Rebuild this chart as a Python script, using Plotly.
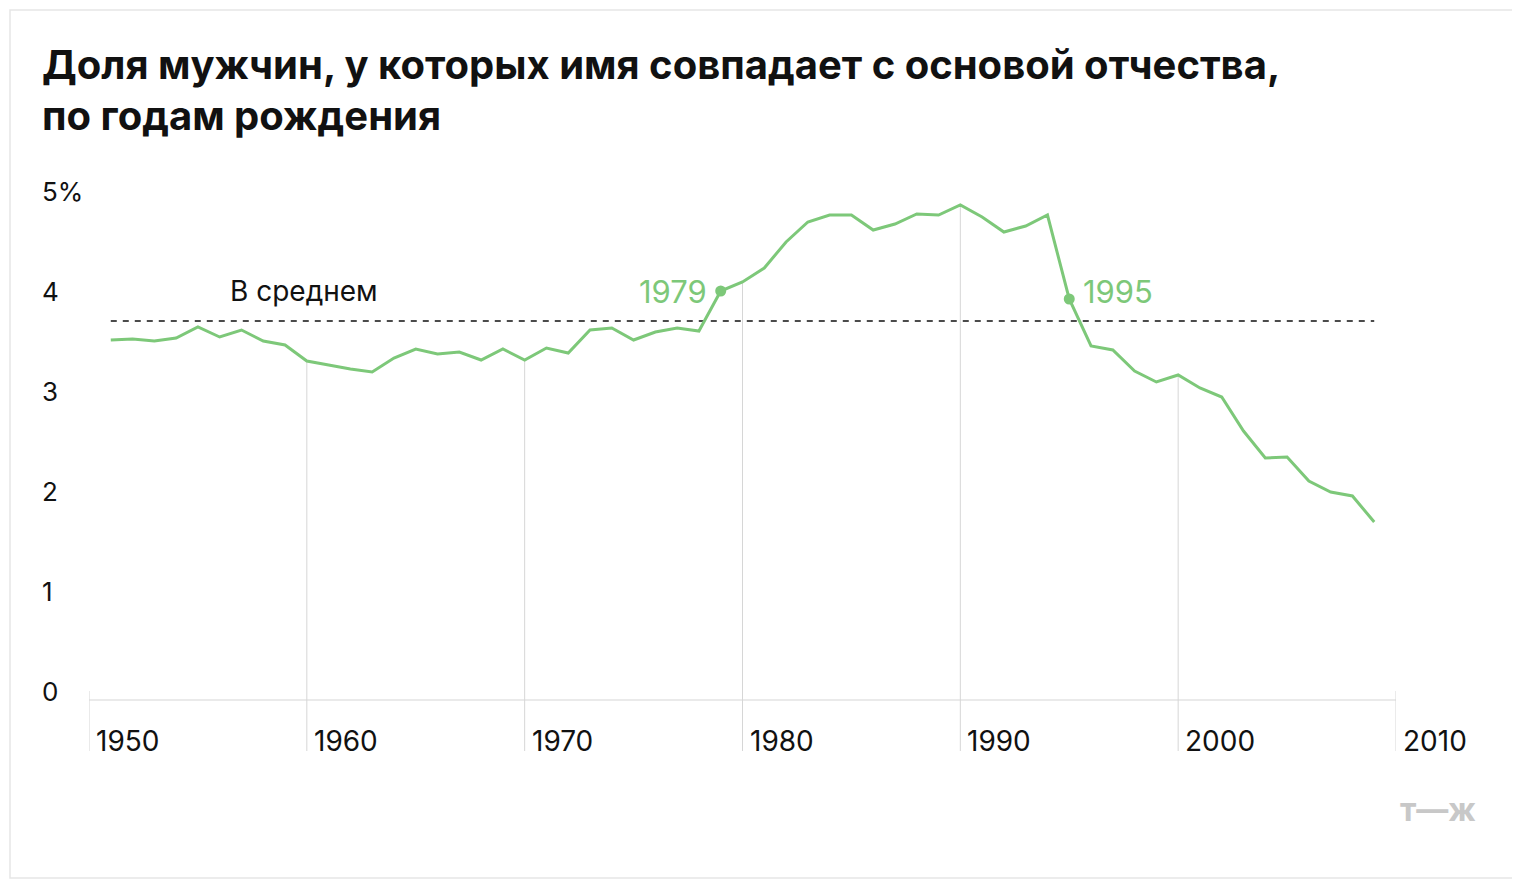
import plotly.graph_objects as go

years = list(range(1951, 2010))
share = [3.51, 3.52, 3.50, 3.53, 3.64, 3.54, 3.61, 3.50, 3.46, 3.30,
         3.26, 3.22, 3.19, 3.33, 3.42, 3.37, 3.39, 3.31, 3.42, 3.31,
         3.43, 3.38, 3.61, 3.63, 3.51, 3.59, 3.63, 3.60, 4.00, 4.09,
         4.23, 4.49, 4.69, 4.76, 4.76, 4.61, 4.67, 4.77, 4.76, 4.86,
         4.74, 4.59, 4.65, 4.76, 3.92, 3.45, 3.41, 3.20, 3.09, 3.16,
         3.03, 2.94, 2.60, 2.33, 2.34, 2.10, 1.99, 1.95, 1.69]
average = 3.70
x_ticks = [1950, 1960, 1970, 1980, 1990, 2000, 2010]
y_ticks = [0, 1, 2, 3, 4, 5]
y_labels = ["0", "1", "2", "3", "4", "5%"]
marked = [1979, 1995]

GREEN = "#7dc879"
FONT = "Inter, Roboto, sans-serif"
val = dict(zip(years, share))

OFF = 8
L, T, PW, PH = 89, 171, 1307, 580
W, H = 1520 - OFF, 881 - OFF


def px(x):
    return (x - L) / PW


def py(y):
    return (T + PH - y) / PH


fig = go.Figure()
fig.add_trace(go.Scatter(x=[years[0], years[-1]], y=[average, average], mode="lines",
                         line=dict(color="#111", width=1.3, dash="6px,6px"), hoverinfo="skip"))
fig.add_trace(go.Scatter(x=years, y=share, mode="lines", line=dict(color=GREEN, width=3),
                         hoverinfo="skip"))
fig.add_trace(go.Scatter(x=marked, y=[val[m] for m in marked], mode="markers",
                         marker=dict(color=GREEN, size=11), hoverinfo="skip"))

shapes = []
for t in x_ticks:
    top = val.get(t, 0)
    shapes.append(dict(type="line", xref="x", yref="y", x0=t, x1=t, y0=-0.6, y1=top,
                       line=dict(color="#d6d6d6", width=1), layer="below"))
shapes.append(dict(type="line", xref="x", yref="y", x0=1950, x1=2010, y0=-0.09, y1=-0.09,
                   line=dict(color="#d6d6d6", width=1.2)))
shapes.append(dict(type="rect", xref="paper", yref="paper",
                   x0=px(10), x1=px(1518), y0=py(878), y1=py(10),
                   line=dict(color="#e6e6e6", width=1.5), layer="below"))

ann = []
for t in x_ticks:
    ann.append(dict(x=t, y=py(741), xref="x", yref="paper", text=str(t), showarrow=False,
                    xanchor="left", xshift=5, yanchor="middle",
                    font=dict(size=28, color="#111", family=FONT)))
for v, l in zip(y_ticks, y_labels):
    ann.append(dict(x=px(40), y=v, xref="paper", yref="y", text=l, showarrow=False,
                    xanchor="left", yanchor="middle", font=dict(size=26, color="#111", family=FONT)))
ann.append(dict(x=1979, y=val[1979], xref="x", yref="y", text="1979", showarrow=False,
                xanchor="right", xshift=-12, font=dict(size=31, color=GREEN, family=FONT)))
ann.append(dict(x=1995, y=val[1995], xref="x", yref="y", text="1995", showarrow=False,
                xanchor="left", xshift=12, yshift=8, font=dict(size=31, color=GREEN, family=FONT)))
ann.append(dict(x=1956.4, y=4.0, xref="x", yref="y", text="В среднем", showarrow=False,
                xanchor="left", font=dict(size=28, color="#111", family=FONT)))
ann.append(dict(x=px(40), y=py(65), xref="paper", yref="paper", showarrow=False,
                xanchor="left", yanchor="middle", align="left",
                text="<b>Доля мужчин, у которых имя совпадает с основой отчества,</b>",
                font=dict(size=40, color="#111", family=FONT)))
ann.append(dict(x=px(40), y=py(115), xref="paper", yref="paper", showarrow=False,
                xanchor="left", yanchor="middle", align="left",
                text="<b>по годам рождения</b>", font=dict(size=40, color="#111", family=FONT)))
ann.append(dict(x=px(1478), y=py(809), xref="paper", yref="paper", showarrow=False,
                xanchor="right", yanchor="middle", text="<b>т—ж</b>",
                font=dict(size=32, color="#c8c8c8", family=FONT)))

fig.update_layout(
    width=W, height=H,
    margin=dict(l=L - OFF, r=W - (L - OFF) - PW, t=T - OFF, b=H - (T - OFF) - PH),
    paper_bgcolor="white", plot_bgcolor="white", showlegend=False,
    xaxis=dict(range=[1950, 2010], visible=False, fixedrange=True),
    yaxis=dict(range=[-0.6, 5.2], visible=False, fixedrange=True),
    shapes=shapes, annotations=ann,
)
fig.write_html("out.html")
